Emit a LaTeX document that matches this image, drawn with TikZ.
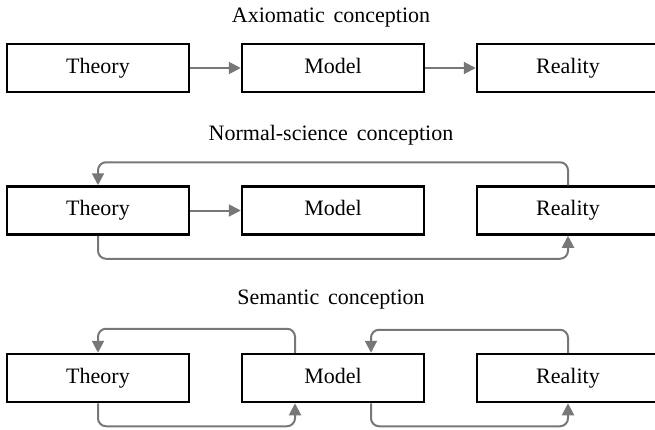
\documentclass[tikz,border=0pt]{standalone}
\usepackage{fontspec}
\setmainfont{Liberation Serif}[WordSpace=1.6]
\usetikzlibrary{arrows.meta}
\definecolor{linkgray}{HTML}{777777}
\begin{document}
\begin{tikzpicture}[x=1pt,y=-1pt,
  box/.style={draw=black, line width=2.5pt, minimum width=182pt, minimum height=48pt,
              inner sep=0pt, text height=15pt, text depth=5pt,
              font=\fontsize{22}{26}\selectfont},
  title/.style={font=\fontsize{22}{26}\selectfont, inner sep=0pt,
                text height=15pt, text depth=5pt},
  link/.style={draw=linkgray, line width=2pt, rounded corners=8pt,
               -{Triangle[length=12pt,width=12pt]}}]
\clip (0,0) rectangle (655,429);

% Axiomatic conception
\node[title] (h1) at (331,17) {Axiomatic conception};
\node[box] (t1) at (98,68) {Theory};
\node[box] (m1) at (333,68) {Model};
\node[box] (r1) at (568,68) {Reality};
\draw[link] (t1.east) -- (m1.west);
\draw[link] (m1.east) -- (r1.west);

% Normal-science conception
\node[title] (h2) at (331,135) {Normal-science conception};
\node[box] (t2) at (98,210.5) {Theory};
\node[box] (m2) at (333,210.5) {Model};
\node[box] (r2) at (568,210.5) {Reality};
\draw[link] (t2.east) -- (m2.west);
\draw[link] (r2.north) -- ++(0,-23) -| (t2.north);
\draw[link] (t2.south) -- ++(0,23) -| (r2.south);

% Semantic conception
\node[title] (h3) at (331,299) {Semantic conception};
\node[box] (t3) at (98,378) {Theory};
\node[box] (m3) at (333,378) {Model};
\node[box] (r3) at (568,378) {Reality};
\draw[link] ([xshift=-38pt]m3.north) -- ++(0,-24) -| (t3.north);
\draw[link] (t3.south) -- ++(0,23) -| ([xshift=-38pt]m3.south);
\draw[link] (r3.north) -- ++(0,-23) -| ([xshift=38pt]m3.north);
\draw[link] ([xshift=38pt]m3.south) -- ++(0,23) -| (r3.south);
\end{tikzpicture}
\end{document}
